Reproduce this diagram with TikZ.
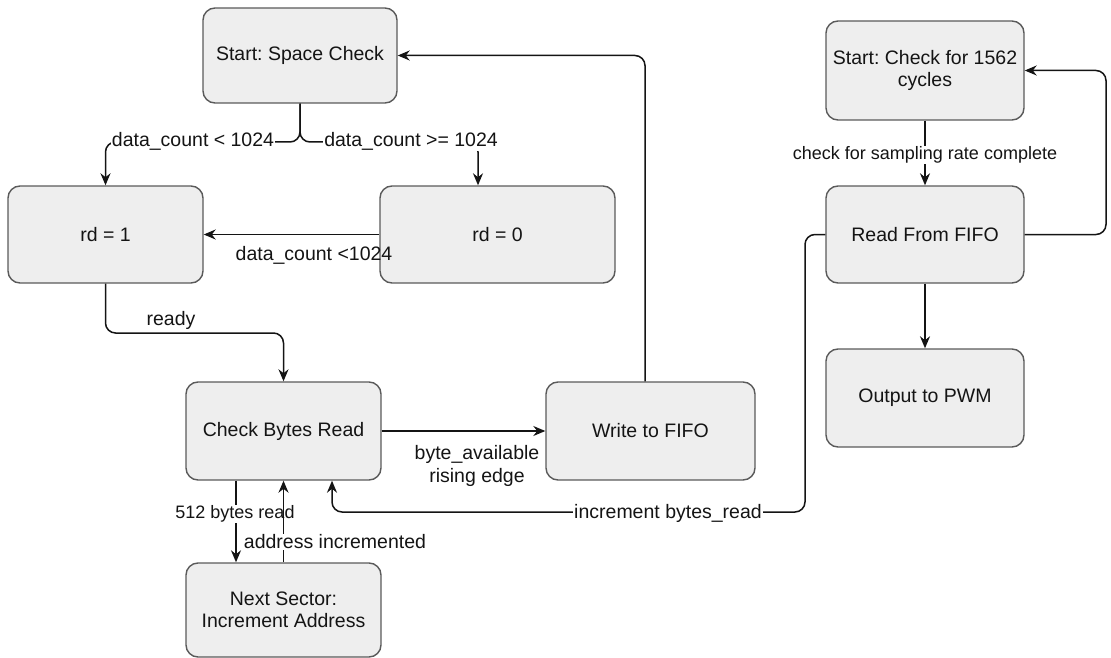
\documentclass[tikz,border=0pt]{standalone}
\usepackage{fontspec}
\setmainfont{Liberation Sans}
\usetikzlibrary{arrows.meta}
\definecolor{boxfill}{HTML}{EEEEEE}
\definecolor{boxline}{HTML}{5A5A5A}
\definecolor{ink}{HTML}{141414}
\frenchspacing

\begin{document}
\begin{tikzpicture}[x=1pt,y=-1pt,
  state/.style={draw=boxline, fill=boxfill, rounded corners=12pt, line width=1.4pt,
    align=center, inner sep=0pt, text=ink, font=\fontsize{19.5}{22}\selectfont},
  link/.style={draw=ink, line width=1.5pt, rounded corners=10pt,
    -{Stealth[length=12pt,width=10pt]}},
  tag/.style={fill=white, inner sep=1pt, text=ink, align=center,
    font=\fontsize{19.5}{23}\selectfont},
  bare/.style={tag, fill=none},
  small/.style={tag, font=\fontsize{18}{22}\selectfont}]

\useasboundingbox (0,0) rectangle (1111,658);

% --- states of the SD-card reader ---
\node[state, minimum width=194pt, minimum height=95pt] (ssc) at (300,55.5) {Start: Space Check};
\node[state, minimum width=195pt, minimum height=97pt] (rd1) at (105.5,234.5) {rd = 1};
\node[state, minimum width=235pt, minimum height=97pt] (rd0) at (497.5,234.5) {rd = 0};
\node[state, minimum width=195pt, minimum height=98pt] (cbr) at (283.5,431) {Check Bytes Read};
\node[state, minimum width=195pt, minimum height=94pt] (ns) at (283.5,610) {Next Sector:\\Increment Address};
\node[state, minimum width=209pt, minimum height=98pt] (wf) at (650.5,431) {Write to FIFO};

% --- states of the PWM player ---
\node[state, minimum width=198pt, minimum height=99pt] (sc) at (925,70.5) {Start: Check for 1562\\cycles};
\node[state, minimum width=198pt, minimum height=97pt] (rf) at (925,234.5) {Read From FIFO};
\node[state, minimum width=198pt, minimum height=98pt] (pwm) at (925,398) {Output to PWM};

% --- reader transitions ---
\draw[link] (ssc.south) -- (300,142) -- (105.5,142) -- (rd1.north);
\draw[link] (ssc.south) -- (300,142) -- (478,142) -- ([xshift=-19.5pt]rd0.north);
\node[tag] (lless) at (193,141) {data\_count < 1024};
\node[tag] (lmore) at (411,141) {data\_count >= 1024};

\draw[link] (rd0.west) -- (rd1.east);
\node[bare] (lback) at (314,255) {data\_count <1024};

\draw[link] (rd1.south) -- (105.5,333) -- (283.5,333) -- (cbr.north);
\node[bare] (lready) at (171,320) {ready};

\draw[link] (cbr.east) -- (wf.west);
\node[bare] (lbyte) at (477,466) {byte\_available\\rising edge};

\draw[link] ([xshift=-5.5pt]wf.north) -- (645,55.5) -- (ssc.east);

\draw[link] ([xshift=-47.5pt]cbr.south) -- ([xshift=-47.5pt]ns.north);
\node[small] (l512) at (235,514) {512 bytes read};
\draw[link] (ns.north) -- (cbr.south);
\node[tag] (laddr) at (335,542) {address incremented};

\draw[link] (rf.west) -- (805,234.5) -- (805,512) -- (332,512) -- ([xshift=48.5pt]cbr.south);
\node[tag] (linc) at (668,513) {increment bytes\_read};

% --- player transitions ---
\draw[link] (sc.south) -- (rf.north);
\node[small] (lsamp) at (925,155) {check for sampling rate complete};
\draw[link] (rf.east) -- (1106,234.5) -- (1106,70.5) -- (sc.east);
\draw[link] (rf.south) -- (pwm.north);
\end{tikzpicture}
\end{document}
